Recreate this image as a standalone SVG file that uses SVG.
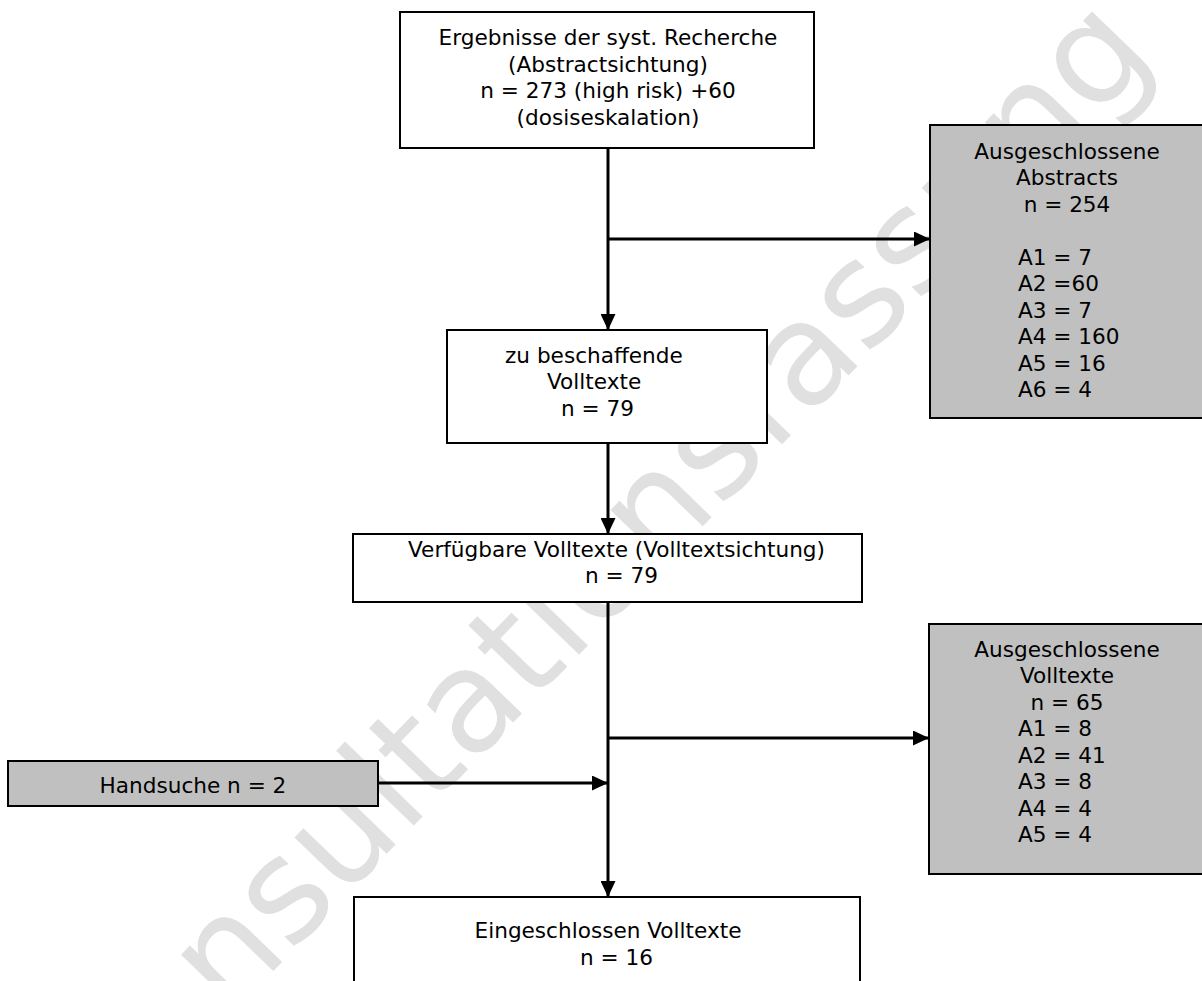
<svg xmlns="http://www.w3.org/2000/svg" width="1202" height="981" viewBox="0 0 1202 981">
  <defs>
    <marker id="arrow" markerUnits="userSpaceOnUse" markerWidth="16" markerHeight="15" refX="16" refY="7.5" orient="auto">
      <path d="M0,0 L16,7.5 L0,15 Z" fill="#000"/>
    </marker>
    <style>
      .box { fill: #fff; stroke: #000; stroke-width: 2; }
      .grey { fill: #c0c0c0; stroke: #000; stroke-width: 2; }
      .lbl { font-family: "DejaVu Sans", Verdana, sans-serif; font-size: 21.6px; fill: #000; }
      .mid { text-anchor: middle; }
      .conn { fill: none; stroke: #000; stroke-width: 3; }
      .wm { font-family: "DejaVu Sans", Verdana, sans-serif; font-size: 142px; fill: #e0e0e0; }
    </style>
  </defs>
  <rect width="1202" height="981" fill="#fff"/>

  <!-- background watermark -->
  <g id="watermark">
    <text class="wm" transform="translate(228,1018) rotate(-46)">nsultationsfassung</text>
  </g>

  <!-- connectors -->
  <g id="connectors">
    <path class="conn" d="M608,148 V330" marker-end="url(#arrow)"/>
    <path class="conn" d="M608,239 H930" marker-end="url(#arrow)"/>
    <path class="conn" d="M608,443 V534" marker-end="url(#arrow)"/>
    <path class="conn" d="M608,602 V897" marker-end="url(#arrow)"/>
    <path class="conn" d="M608,738 H929" marker-end="url(#arrow)"/>
    <path class="conn" d="M378,783 H608" marker-end="url(#arrow)"/>
  </g>

  <g id="search-results">
    <rect class="box" x="400" y="12" width="414" height="136"/>
    <text class="lbl mid" x="608" y="45">Ergebnisse der syst. Recherche</text>
    <text class="lbl mid" x="608" y="71.5">(Abstractsichtung)</text>
    <text class="lbl mid" x="608" y="98">n = 273 (high risk) +60</text>
    <text class="lbl mid" x="608" y="124.5">(dosiseskalation)</text>
  </g>

  <g id="excluded-abstracts">
    <rect class="grey" x="930" y="125" width="290" height="293"/>
    <text class="lbl mid" x="1067" y="158.5">Ausgeschlossene</text>
    <text class="lbl mid" x="1067" y="185">Abstracts</text>
    <text class="lbl mid" x="1067" y="211.5">n = 254</text>
    <text class="lbl" x="1018" y="264.5">A1 = 7</text>
    <text class="lbl" x="1018" y="291">A2 =60</text>
    <text class="lbl" x="1018" y="317.5">A3 = 7</text>
    <text class="lbl" x="1018" y="344">A4 = 160</text>
    <text class="lbl" x="1018" y="370.5">A5 = 16</text>
    <text class="lbl" x="1018" y="397">A6 = 4</text>
  </g>

  <g id="fulltexts-to-obtain">
    <rect class="box" x="447" y="330" width="320" height="113"/>
    <text class="lbl" x="505" y="362.7">zu beschaffende</text>
    <text class="lbl" x="547" y="389">Volltexte</text>
    <text class="lbl" x="561" y="415.5">n = 79</text>
  </g>

  <g id="available-fulltexts">
    <rect class="box" x="353" y="534" width="509" height="68"/>
    <text class="lbl" x="408" y="556.7">Verfügbare Volltexte (Volltextsichtung)</text>
    <text class="lbl" x="585" y="583">n = 79</text>
  </g>

  <g id="excluded-fulltexts">
    <rect class="grey" x="929" y="624" width="290" height="250"/>
    <text class="lbl mid" x="1067" y="656.7">Ausgeschlossene</text>
    <text class="lbl mid" x="1067" y="683">Volltexte</text>
    <text class="lbl mid" x="1067" y="709.5">n = 65</text>
    <text class="lbl" x="1018" y="736">A1 = 8</text>
    <text class="lbl" x="1018" y="762.5">A2 = 41</text>
    <text class="lbl" x="1018" y="789">A3 = 8</text>
    <text class="lbl" x="1018" y="815.5">A4 = 4</text>
    <text class="lbl" x="1018" y="842">A5 = 4</text>
  </g>

  <g id="hand-search">
    <rect class="grey" x="8" y="761" width="370" height="45"/>
    <text class="lbl mid" x="193" y="792.7">Handsuche n = 2</text>
  </g>

  <g id="included-fulltexts">
    <rect class="box" x="354" y="897" width="506" height="100"/>
    <text class="lbl mid" x="608" y="938">Eingeschlossen Volltexte</text>
    <text class="lbl" x="580" y="965">n = 16</text>
  </g>
</svg>
